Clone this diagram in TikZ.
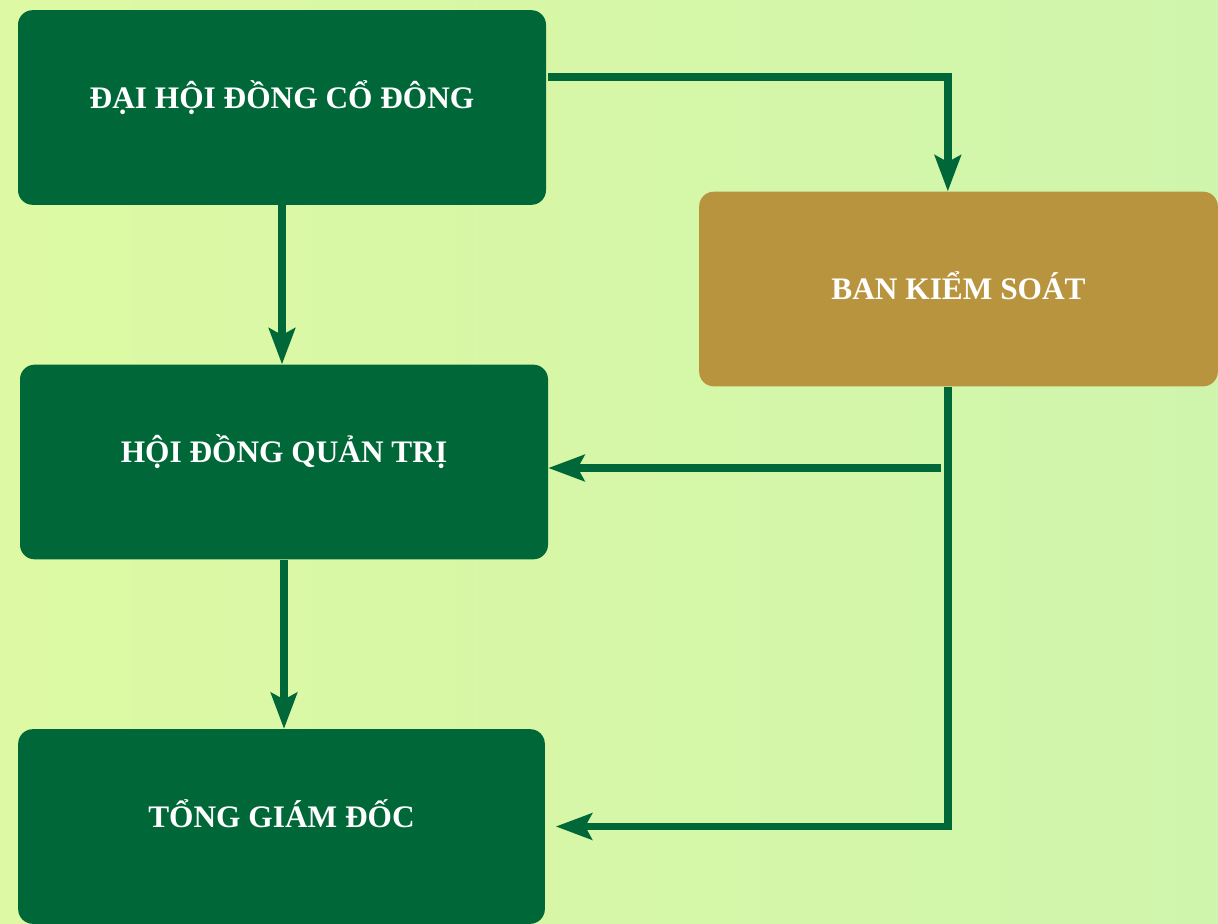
\documentclass[tikz,border=0pt]{standalone}
\usepackage{fontspec}
\setmainfont{Liberation Serif}
\usetikzlibrary{arrows.meta}

\definecolor{boardgreen}{HTML}{006838}
\definecolor{auditgold}{HTML}{B8943F}
\definecolor{bgleft}{HTML}{DDF9A3}
\definecolor{bgright}{HTML}{CFF5AC}

\tikzset{
  organ/.style={rectangle, rounded corners=11pt, inner sep=0pt,
    text=white, font=\bfseries\fontsize{23.5}{27}\selectfont,
    minimum width=396pt, minimum height=146pt},
  greenbox/.style={organ, fill=boardgreen, text height=8pt, text depth=7pt},
  goldbox/.style={organ, fill=auditgold, minimum width=389pt,
    text height=15pt, text depth=0pt},
  flow/.style={draw=boardgreen, line width=5.5pt,
    -{Stealth[length=27pt, width=19.5pt, inset=5pt]}},
  link/.style={draw=boardgreen, line width=5.5pt}
}

\begin{document}
\begin{tikzpicture}[x=0.75pt, y=-0.75pt]
% Background
\useasboundingbox (0,0) rectangle (1218,924);
\clip (0,0) rectangle (1218,924);
\shade[left color=bgleft, right color=bgright] (0,0) rectangle (1218,924);

% Boxes
\node[greenbox] (top) at (282,107.5) {ĐẠI HỘI ĐỒNG CỔ ĐÔNG};
\node[greenbox] (council) at (284,462) {HỘI ĐỒNG QUẢN TRỊ};
\node[greenbox, minimum width=395pt] (ceo) at (281.5,826.5) {TỔNG GIÁM ĐỐC};
\node[goldbox] (audit) at (958.5,289) {BAN KIỂM SOÁT};

% Helper points
\coordinate (hqin) at ([yshift=-4.5pt]council.east);
\coordinate (tap) at ([xshift=-8pt]audit.south |- hqin);

% Connectors
\draw[flow] ([xshift=1.5pt]top.east |- 0,77) -| ([xshift=-8pt]audit.north);
\draw[flow] (top.south) -- (top.south |- council.north);
\draw[flow] (council.south) -- (council.south |- ceo.north);
\draw[flow] ([xshift=-8pt]audit.south) |- ([xshift=8pt]ceo.east);
\draw[flow, shorten <=5pt] (tap) -- (hqin);

\end{tikzpicture}
\end{document}
